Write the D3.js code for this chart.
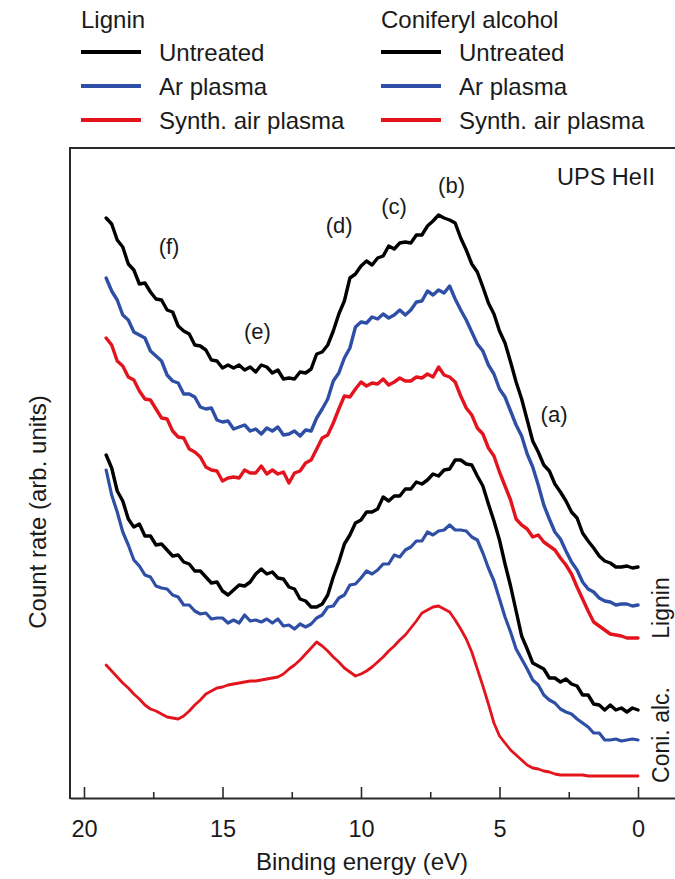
<!DOCTYPE html>
<html><head><meta charset="utf-8">
<script src="https://cdn.jsdelivr.net/npm/d3@7"></script>
<style>
body{margin:0;background:#fff}
svg{display:block}
text{font-family:"Liberation Sans",Arial,Helvetica,sans-serif;fill:#1a1a1a}
</style>
</head><body><svg id="chart" width="675" height="879"></svg>
<script>
// Binding energy grid (eV)
const energy = [19.2,19.0,18.8,18.6,18.4,18.2,18.0,17.8,17.6,17.4,17.2,17.0,16.8,16.6,16.4,16.2,16.0,15.8,15.6,15.4,
15.2,15.0,14.8,14.6,14.4,14.2,14.0,13.8,13.6,13.4,13.2,13.0,12.8,12.6,12.4,12.2,12.0,11.8,11.6,11.4,
11.2,11.0,10.8,10.6,10.4,10.2,10.0,9.8,9.6,9.4,9.2,9.0,8.8,8.6,8.4,8.2,8.0,7.8,7.6,7.4,
7.2,7.0,6.8,6.6,6.4,6.2,6.0,5.8,5.6,5.4,5.2,5.0,4.8,4.6,4.4,4.2,4.0,3.8,3.6,3.4,
3.2,3.0,2.8,2.6,2.4,2.2,2.0,1.8,1.6,1.4,1.2,1.0,0.8,0.6,0.4,0.2,0.0];

// Count rate (arb. units, stacked with offsets as in the figure)
const ligninUntreated = [580,574,558,551,534,528,514,515,506,499,
498,488,486,472,467,464,453,452,448,438,
437,430,433,430,433,428,431,426,433,431,
425,428,419,420,419,426,425,429,444,446,
453,467,484,497,520,524,532,537,533,540,
542,552,549,555,556,555,563,563,572,577,
583,580,578,575,560,548,534,526,511,495,
484,467,455,436,416,399,378,357,346,333,
327,314,306,297,286,280,265,257,250,242,
237,235,231,231,232,230,231];
const ligninAr = [520,507,498,483,478,466,463,460,447,442,
437,423,417,415,404,404,401,391,389,390,
378,376,377,369,371,373,367,369,364,370,
367,371,363,364,367,362,368,367,380,389,
399,417,425,440,450,471,476,475,481,479,
484,480,483,488,483,488,496,497,507,503,
508,505,512,499,488,478,466,454,447,433,
424,409,401,387,373,362,344,331,313,293,
279,266,259,247,236,228,216,209,206,200,
197,196,193,194,194,192,193];
const ligninAir = [460,453,437,432,421,418,407,399,398,389,
380,379,367,361,360,349,346,341,331,328,
327,317,320,321,320,328,325,325,332,324,
328,324,326,315,325,327,335,338,349,360,
363,375,389,402,401,409,416,412,415,414,
419,413,416,420,417,417,421,420,424,421,
431,423,421,416,402,390,383,370,364,350,
342,326,312,298,279,273,269,261,263,256,
252,248,240,233,224,211,199,187,176,172,
168,164,163,162,160,160,160];
const coniUntreated = [343,330,307,297,279,271,274,262,262,253,
254,248,242,243,236,234,227,227,221,215,
216,207,203,208,213,212,216,224,229,224,
226,220,219,211,209,199,197,191,191,194,
203,221,236,254,263,275,278,286,286,289,
301,297,302,302,309,309,316,314,318,324,
322,328,329,338,338,334,333,322,312,294,
277,258,234,212,187,162,149,135,132,129,
120,120,116,119,114,112,103,103,94,93,
88,93,88,90,86,90,88];
const coniAr = [328,303,286,266,253,238,232,223,221,212,
210,209,203,201,193,193,187,184,185,179,
180,180,175,178,175,183,177,178,176,179,
175,179,172,173,169,174,171,174,180,183,
191,192,200,203,213,214,220,227,224,228,
234,234,243,241,248,251,257,257,266,263,
267,268,273,268,268,267,261,258,245,230,
217,199,181,166,149,139,129,118,113,103,
98,95,89,86,84,79,75,71,65,65,
58,58,59,57,58,59,58];
const coniAir = [133,127,121,115,110,104,99,93,89,87,
84,81,80,79,82,87,93,98,104,107,
110,111,113,114,115,116,117,117,118,119,
120,121,124,129,133,138,144,150,156,152,
147,141,136,130,126,122,124,127,131,136,
141,147,152,158,163,170,177,185,188,191,
192,189,186,178,169,159,146,129,112,94,
75,62,55,48,43,38,33,30,29,27,
26,24,23,23,23,23,23,22,22,22,
22,22,22,22,22,22,22];

const legendGroups = ["Lignin", "Coniferyl alcohol"];
const treatments = ["Untreated", "Ar plasma", "Synth. air plasma"];
const sampleLabels = ["Lignin", "Coni. alc."];
const peakLabels = ["(a)", "(b)", "(c)", "(d)", "(e)", "(f)"];
const xTicks = [20, 15, 10, 5, 0];
const xMinorTicks = [17.5, 12.5, 7.5, 2.5];

const colors = ["#000000", "#2f4fa6", "#e3141d"];
const svg = d3.select("#chart");

const x = d3.scaleLinear().domain([20.505, -1.336]).range([70, 675]);
const y = d3.scaleLinear().domain([0, 650]).range([798, 148]);

// frame: top and left lines
svg.append("line").attr("x1", 70).attr("x2", 675).attr("y1", 148).attr("y2", 148)
  .attr("stroke", "#2a2a2a").attr("stroke-width", 2);
svg.append("line").attr("x1", 70).attr("x2", 70).attr("y1", 147).attr("y2", 799)
  .attr("stroke", "#2a2a2a").attr("stroke-width", 2);

// bottom axis
const gx = svg.append("g").attr("transform", "translate(0,798)")
  .call(d3.axisBottom(x).tickValues(xTicks).tickFormat(d3.format("d"))
    .tickSizeInner(-11).tickSizeOuter(0).tickPadding(22));
gx.select(".domain").attr("stroke", "#2a2a2a").attr("stroke-width", 2);
gx.selectAll(".tick line").attr("stroke", "#2a2a2a").attr("stroke-width", 1.6);
gx.selectAll(".tick text").attr("font-size", 23.5).attr("fill", "#1a1a1a")
  .style("font-family", "'Liberation Sans', Arial, sans-serif");
const gm = svg.append("g").attr("transform", "translate(0,798)")
  .call(d3.axisBottom(x).tickValues(xMinorTicks).tickFormat("").tickSizeInner(-6).tickSizeOuter(0));
gm.select(".domain").remove();
gm.selectAll(".tick line").attr("stroke", "#2a2a2a").attr("stroke-width", 1.6);

svg.append("text").attr("x", 362).attr("y", 870).attr("text-anchor", "middle")
  .attr("font-size", 24).text("Binding energy (eV)");
svg.append("text").attr("transform", "translate(46,512) rotate(-90)").attr("text-anchor", "middle")
  .attr("font-size", 24).text("Count rate (arb. units)");

// spectra
const series = [
  {v: ligninUntreated, c: 0, w: 3.4},
  {v: ligninAr, c: 1, w: 3.4},
  {v: ligninAir, c: 2, w: 3.4},
  {v: coniUntreated, c: 0, w: 3.4},
  {v: coniAr, c: 1, w: 3.2},
  {v: coniAir, c: 2, w: 2.8}
];
const line = d3.line().x(d => x(d[0])).y(d => y(d[1]));
series.forEach(s => {
  const pts = energy.map((e, i) => [e, s.v[i]]);
  svg.append("path").attr("d", line(pts)).attr("fill", "none")
    .attr("stroke", colors[s.c]).attr("stroke-width", s.w)
    .attr("stroke-linejoin", "round").attr("stroke-linecap", "round");
});

// peak labels (positions in data units: eV, counts)
const peakPos = [[3.03, 376], [6.73, 605], [8.81, 584], [10.79, 565], [13.74, 459], [16.93, 544]];
peakLabels.forEach((t, i) => {
  svg.append("text").attr("x", x(peakPos[i][0])).attr("y", y(peakPos[i][1]))
    .attr("text-anchor", "middle").attr("font-size", 22).text(t);
});
svg.append("text").attr("x", 557).attr("y", 185).attr("font-size", 23.5).text("UPS HeII");

// sample labels at right (rotated)
const sampleY = [608, 735];
sampleLabels.forEach((t, i) => {
  svg.append("text").attr("transform", `translate(669,${sampleY[i]}) rotate(-90)`)
    .attr("text-anchor", "middle").attr("font-size", 23).text(t);
});

// legend
const colX = [81, 381];
legendGroups.forEach((g, gi) => {
  svg.append("text").attr("x", colX[gi]).attr("y", 28).attr("font-size", 24).text(g);
  treatments.forEach((t, ti) => {
    const ly = 52 + ti * 34;
    svg.append("line").attr("x1", colX[gi]).attr("x2", colX[gi] + 60).attr("y1", ly).attr("y2", ly)
      .attr("stroke", colors[ti]).attr("stroke-width", 4);
    svg.append("text").attr("x", colX[gi] + 78).attr("y", ly + 9).attr("font-size", 24).text(t);
  });
});
</script>
</body></html>
